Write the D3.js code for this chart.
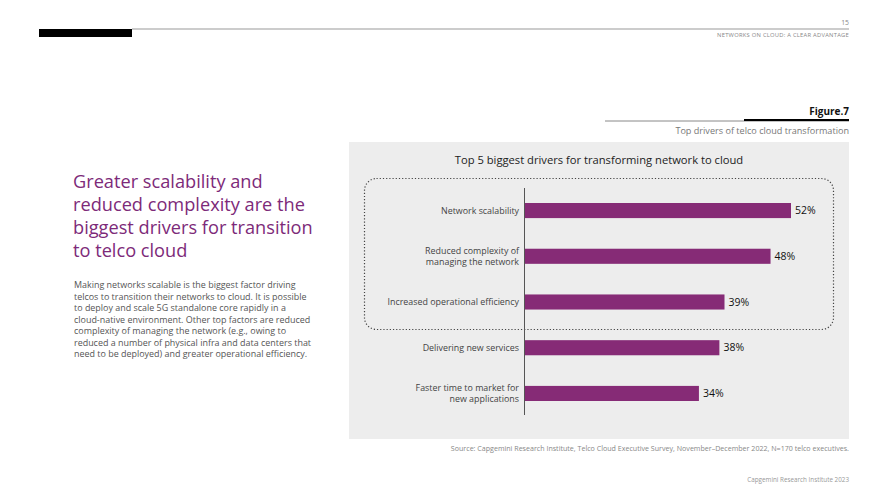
<!DOCTYPE html>
<html>
<head>
<meta charset="utf-8">
<script src="https://cdn.jsdelivr.net/npm/d3@7"></script>
<style>
body { margin: 0; background: #fff; }
svg { display: block; font-family: "Open Sans", "Noto Sans", sans-serif; }
</style>
</head>
<body>
<svg id="page" width="889" height="500"></svg>
<script>
const drivers = [
	["Network scalability"],
	["Reduced complexity of", "managing the network"],
	["Increased operational efficiency"],
	["Delivering new services"],
	["Faster time to market for", "new applications"]
];
const shares = [52, 48, 39, 38, 34];

const headingLines = [
	"Greater scalability and",
	"reduced complexity are the",
	"biggest drivers for transition",
	"to telco cloud"
];
const bodyLines = [
	"Making networks scalable is the biggest factor driving",
	"telcos to transition their networks to cloud. It is possible",
	"to deploy and scale 5G standalone core rapidly in a",
	"cloud-native environment. Other top factors are reduced",
	"complexity of managing the network (e.g., owing to",
	"reduced a number of physical infra and data centers that",
	"need to be deployed) and greater operational efficiency."
];

const PURPLE = "#862b76";
const svg = d3.select("#page");

// page header
svg.append("line")
	.attr("x1", 132).attr("y1", 29).attr("x2", 849).attr("y2", 29)
	.attr("stroke", "#999").attr("stroke-width", 1);
svg.append("rect")
	.attr("x", 39).attr("y", 29).attr("width", 93).attr("height", 8)
	.attr("fill", "#000");
svg.append("text")
	.attr("x", 849).attr("y", 25).attr("text-anchor", "end")
	.attr("font-size", 6.8).attr("fill", "#888").text("15");
svg.append("text")
	.attr("x", 849).attr("y", 37).attr("text-anchor", "end")
	.attr("font-size", 5.8).attr("fill", "#888").attr("letter-spacing", 0.25)
	.text("NETWORKS ON CLOUD: A CLEAR ADVANTAGE");

// left column
svg.append("g").selectAll("text")
	.data(headingLines)
	.enter()
	.append("text")
	.attr("x", 73).attr("y", function(d, i) {return 188 + i * 23;})
	.attr("font-size", 18.2).attr("fill", "#7d2a79")
	.text(function(d) {return d;});
svg.append("g").selectAll("text")
	.data(bodyLines)
	.enter()
	.append("text")
	.attr("x", 74).attr("y", function(d, i) {return 288 + i * 11.5;})
	.attr("font-size", 8.95).attr("fill", "#555")
	.text(function(d) {return d;});

// figure caption
svg.append("text")
	.attr("x", 849).attr("y", 115).attr("text-anchor", "end")
	.attr("font-size", 10).attr("font-weight", "bold").attr("fill", "#111")
	.text("Figure.7");
svg.append("line")
	.attr("x1", 605).attr("y1", 121).attr("x2", 849).attr("y2", 121)
	.attr("stroke", "#888").attr("stroke-width", 1);
svg.append("line")
	.attr("x1", 744).attr("y1", 120).attr("x2", 849).attr("y2", 120)
	.attr("stroke", "#000").attr("stroke-width", 2);
svg.append("text")
	.attr("x", 849).attr("y", 134).attr("text-anchor", "end")
	.attr("font-size", 9.1).attr("fill", "#777")
	.text("Top drivers of telco cloud transformation");

// chart panel
svg.append("rect")
	.attr("x", 349).attr("y", 142).attr("width", 500).attr("height", 297)
	.attr("fill", "#ededed");
svg.append("text")
	.attr("x", 599).attr("y", 164).attr("text-anchor", "middle")
	.attr("font-size", 11.2).attr("fill", "#222")
	.text("Top 5 biggest drivers for transforming network to cloud");
svg.append("rect")
	.attr("x", 364.5).attr("y", 178.5).attr("width", 469).attr("height", 151)
	.attr("rx", 12).attr("fill", "none")
	.attr("stroke", "#444").attr("stroke-width", 1.2).attr("stroke-dasharray", "1.2, 2");

const xScale = d3.scaleLinear().domain([0, 52]).range([525, 791]);
const yScale = d3.scaleBand()
	.domain(d3.range(shares.length))
	.range([187, 417])
	.paddingInner(0.67).paddingOuter(0.35);

const plot = svg.append("g");
plot.selectAll("rect.bar")
	.data(shares)
	.enter()
	.append("rect")
	.attr("class", "bar")
	.attr("x", xScale(0))
	.attr("y", function(d, i) {return yScale(i);})
	.attr("width", function(d) {return xScale(d) - xScale(0);})
	.attr("height", yScale.bandwidth())
	.attr("fill", PURPLE);

plot.selectAll("text.value")
	.data(shares)
	.enter()
	.append("text")
	.attr("class", "value")
	.attr("x", function(d) {return xScale(d) + 4;})
	.attr("y", function(d, i) {return yScale(i) + yScale.bandwidth() / 2;})
	.attr("dy", "0.35em")
	.attr("font-size", 10.5).attr("fill", "#111")
	.text(function(d) {return d + "%";});

// category labels
const labels = plot.selectAll("text.cat")
	.data(drivers)
	.enter()
	.append("text")
	.attr("class", "cat")
	.attr("text-anchor", "end")
	.attr("font-size", 8.9).attr("fill", "#444");
labels.each(function(d, i) {
	const mid = yScale(i) + yScale.bandwidth() / 2;
	const top = mid - (d.length - 1) * 11.5 / 2;
	d3.select(this).selectAll("tspan")
		.data(d)
		.enter()
		.append("tspan")
		.attr("x", 519)
		.attr("y", function(t, j) {return top + j * 11.5;})
		.attr("dy", "0.35em")
		.text(function(t) {return t;});
});

// axis line
svg.append("line")
	.attr("x1", 524.5).attr("y1", 188).attr("x2", 524.5).attr("y2", 415)
	.attr("stroke", "#555").attr("stroke-width", 1);

// footer
svg.append("text")
	.attr("x", 849).attr("y", 451).attr("text-anchor", "end")
	.attr("font-size", 7.1).attr("fill", "#888")
	.text("Source: Capgemini Research Institute, Telco Cloud Executive Survey, November\u2013December 2022, N=170 telco executives.");
svg.append("text")
	.attr("x", 849).attr("y", 482).attr("text-anchor", "end")
	.attr("font-size", 6.3).attr("fill", "#999")
	.text("Capgemini Research Institute 2023");
</script>
</body>
</html>
